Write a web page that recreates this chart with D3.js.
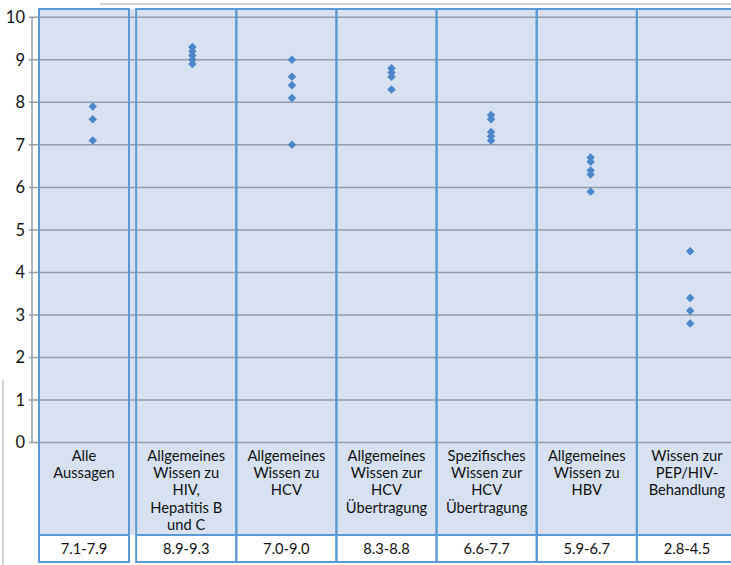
<!DOCTYPE html>
<html><head><meta charset="utf-8">
<script src="https://cdn.jsdelivr.net/npm/d3@7"></script>
<style>body{margin:0;background:#fff}svg{display:block;font-family:Lato,"Open Sans",sans-serif}</style>
</head><body><svg id="c" width="731" height="565"></svg>
<script>
const categories = ["Alle Aussagen","Allgemeines Wissen zu HIV, Hepatitis B und C","Allgemeines Wissen zu HCV","Allgemeines Wissen zur HCV Übertragung","Spezifisches Wissen zur HCV Übertragung","Allgemeines Wissen zu HBV","Wissen zur PEP/HIV-Behandlung"];
const labelLines = [["Alle","Aussagen"],["Allgemeines","Wissen zu","HIV,","Hepatitis B","und C"],["Allgemeines","Wissen zu","HCV"],["Allgemeines","Wissen zur","HCV","Übertragung"],["Spezifisches","Wissen zur","HCV","Übertragung"],["Allgemeines","Wissen zu","HBV"],["Wissen zur","PEP/HIV-","Behandlung"]];
const ranges = ["7.1-7.9","8.9-9.3","7.0-9.0","8.3-8.8","6.6-7.7","5.9-6.7","2.8-4.5"];
const values = [[7.9,7.6,7.1],[9.3,9.2,9.1,9.0,8.9],[9.0,8.6,8.4,8.1,7.0],[8.8,8.7,8.6,8.3],[7.7,7.6,7.3,7.2,7.1],[6.7,6.6,6.4,6.3,5.9],[4.5,3.4,3.1,2.8]];
const yTicks = [0,1,2,3,4,5,6,7,8,9,10];

(function(){
const W = 731, H = 565;
const svg = d3.select("#c");
const FILL = "#d7e1f1", BLUE = "#5b9bd5", GRID = "#939ca8", PT = "#4a86c8";

const y = d3.scaleLinear().domain([0,10]).range([442.5,17.3]);
const xPt = d3.scaleBand().domain(categories).range([43,740]);
const xCol = d3.scaleBand().domain(categories).range([36,737]);
const colLeft = (c,i) => i===0 ? 39 : xCol(c);
const colRight = (c,i) => i===0 ? 129 : xCol(c)+xCol.bandwidth();
const colMid = (c,i) => (colLeft(c,i)+colRight(c,i))/2;

const yTop = 9, ySep = 535, yBot = 562;

svg.append("rect").attr("x",39).attr("y",yTop).attr("width",W-39).attr("height",yBot-yTop).attr("fill",FILL);
svg.append("rect").attr("x",36).attr("y",ySep).attr("width",W-36).attr("height",yBot-ySep).attr("fill","#fff");

svg.append("line").attr("x1",100).attr("x2",W).attr("y1",4).attr("y2",4).attr("stroke","#c4c4c4").attr("stroke-width",1.5);
svg.append("line").attr("x1",3).attr("x2",3).attr("y1",380).attr("y2",H).attr("stroke","#c4c4c4").attr("stroke-width",1.5);

svg.append("g").selectAll("line").data(yTicks).join("line")
  .attr("x1",29).attr("x2",W).attr("y1",d=>y(d)).attr("y2",d=>y(d))
  .attr("stroke",GRID).attr("stroke-width",1.5);
svg.append("line").attr("x1",32).attr("x2",32).attr("y1",y(10)).attr("y2",y(0)).attr("stroke",GRID).attr("stroke-width",1.5);
svg.append("g").selectAll("text").data(yTicks).join("text")
  .attr("x",25).attr("y",d=>y(d)).attr("dy","0.36em").attr("text-anchor","end")
  .attr("font-size",16.5).attr("fill","#111").text(d=>d);

const cols = svg.append("g");
categories.forEach((c,i)=>{
  cols.append("rect").attr("x",colLeft(c,i)).attr("y",yTop).attr("width",colRight(c,i)-colLeft(c,i)).attr("height",yBot-yTop)
    .attr("fill","none").attr("stroke",BLUE).attr("stroke-width",2);
  cols.append("line").attr("x1",colLeft(c,i)).attr("x2",colRight(c,i)).attr("y1",ySep).attr("y2",ySep)
    .attr("stroke",BLUE).attr("stroke-width",2);
});

const diamond = d3.symbol().type(d3.symbolSquare).size(36);
const pts = svg.append("g");
categories.forEach((c,i)=>{
  pts.selectAll(null).data(values[i]).join("path")
    .attr("d",diamond)
    .attr("transform",v=>`translate(${xPt(c)+xPt.bandwidth()/2},${y(v)}) rotate(45)`)
    .attr("fill",PT);
});

const lab = svg.append("g").attr("font-size",14.7).attr("fill","#111").attr("text-anchor","middle");
categories.forEach((c,i)=>{
  const t = lab.append("text").attr("x",colMid(c,i)).attr("y",461);
  labelLines[i].forEach((l,k)=>t.append("tspan").attr("x",colMid(c,i)).attr("y",461+17.2*k).text(l));
  lab.append("text").attr("x",colMid(c,i)).attr("y",554).text(ranges[i]);
});
})();
</script></body></html>
